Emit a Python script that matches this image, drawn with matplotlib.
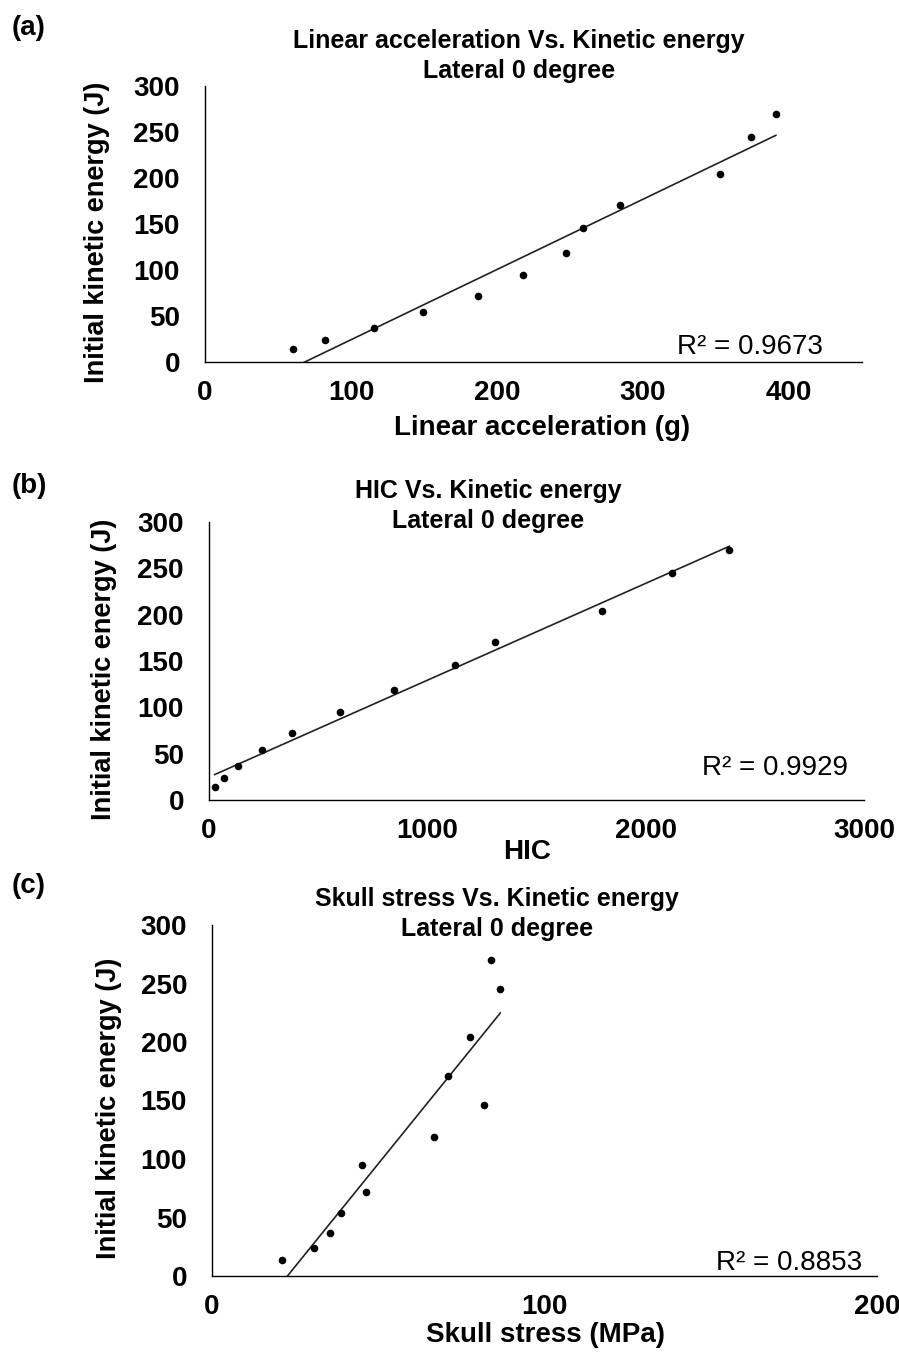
import numpy as np
import matplotlib
matplotlib.use("Agg")
import matplotlib.pyplot as plt

plt.rcParams['font.family'] = ['Liberation Sans', 'DejaVu Sans']

# initial kinetic energy (J), same impacts in all three panels
energy = [14, 24, 37, 54, 72, 95, 119, 146, 171, 204, 245, 270]

# panel (a) linear acceleration (g)
lin_acc = [60, 82, 116, 149, 187, 218, 247, 259, 284, 353, 374, 391]
# panel (b) HIC
hic = [26, 69, 135, 243, 380, 602, 847, 1127, 1311, 1802, 2119, 2383]
# panel (c) skull stress (MPa)
skull = [21.1, 30.7, 35.5, 38.8, 46.3, 45.2, 66.9, 81.8, 71.1, 77.5, 86.7, 83.9]

panels = ["(a)", "(b)", "(c)"]
titles = ["Linear acceleration Vs. Kinetic energy\nLateral 0 degree",
          "HIC Vs. Kinetic energy\nLateral 0 degree",
          "Skull stress Vs. Kinetic energy\nLateral 0 degree"]
xlabels = ["Linear acceleration (g)", "HIC", "Skull stress (MPa)"]
r2_text = ["R² = 0.9673", "R² = 0.9929", "R² = 0.8853"]
xticks = [[0, 100, 200, 300, 400], [0, 1000, 2000, 3000], [0, 100, 200]]
xlims = [(0, 450), (0, 3000), (0, 200)]
yticks = [0, 50, 100, 150, 200, 250, 300]

W, H = 899, 1355
fig = plt.figure(figsize=(W / 100, H / 100), dpi=100)

# pixel boxes: left, right, top, bottom
boxes = [(205, 862, 86, 362), (209, 864, 522, 800), (212, 877, 925, 1276)]
ylab_x = [97, 104, 109]
xlab_y = [428, 852, 1335]
xlab_x = [542, 527, 545]
title_xy = [(519, 56), (488, 506), (497, 914)]
panel_y = [28, 486, 886]
r2_xy = [(823, 347), (848, 768), (862, 1263)]

for i, xs in enumerate([lin_acc, hic, skull]):
    l, r, t, b = boxes[i]
    ax = fig.add_axes([l / W, 1 - b / H, (r - l) / W, (b - t) / H])
    ax.scatter(xs, energy, s=20, color='black', zorder=3)
    k, c = np.polyfit(xs, energy, 1)
    fx = np.array([min(xs), max(xs)])
    ax.plot(fx, k * fx + c, color='#222222', lw=1.2)
    ax.set_xlim(*xlims[i])
    ax.set_ylim(0, 300)
    ax.set_xticks(xticks[i])
    ax.set_yticks(yticks)
    ax.tick_params(length=0, labelsize=20)
    ax.tick_params(axis='y', pad=18)
    ax.tick_params(axis='x', pad=13)
    for lab in ax.get_xticklabels() + ax.get_yticklabels():
        lab.set_fontweight('bold')
    for s in ['top', 'right']:
        ax.spines[s].set_visible(False)
    for s in ['left', 'bottom']:
        ax.spines[s].set_color('black')
        ax.spines[s].set_linewidth(1.0)

    fig.text(ylab_x[i] / W, 1 - ((t + b) / 2 + 8) / H, "Initial kinetic energy (J)",
             rotation=90, ha='center', va='center', fontsize=19.5, fontweight='bold')
    fig.text(xlab_x[i] / W, 1 - xlab_y[i] / H, xlabels[i],
             ha='center', va='center', fontsize=20, fontweight='bold')
    fig.text(title_xy[i][0] / W, 1 - title_xy[i][1] / H, titles[i],
             ha='center', va='center', fontsize=18, fontweight='bold', linespacing=1.3)
    fig.text(12 / W, 1 - panel_y[i] / H, panels[i],
             ha='left', va='center', fontsize=20, fontweight='bold')
    fig.text(r2_xy[i][0] / W, 1 - r2_xy[i][1] / H, r2_text[i],
             ha='right', va='center', fontsize=20)

fig.savefig("out.png", dpi=100, facecolor='white')
